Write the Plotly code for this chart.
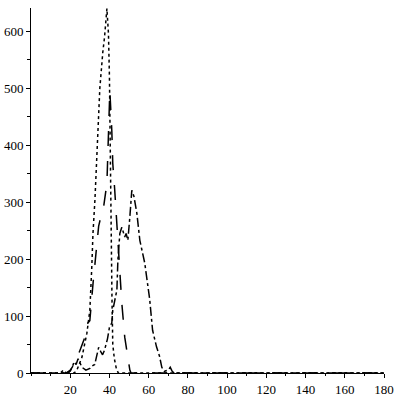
import plotly.graph_objects as go

# dotted curve (tallest peak)
dot_x = [0, 22, 23.4, 26, 28.5, 30, 31, 31.6, 32.6, 33.6, 35.1, 36.6, 37.5, 38.7,
         39.5, 40, 40.3, 40.6, 41, 41.3, 41.7, 42.5, 43.5, 44.5, 180]
dot_y = [0, 0, 5, 28, 70, 110, 186, 245, 304, 391, 500, 563, 590, 640,
         596, 520, 400, 300, 200, 130, 50, 25, 8, 0, 0]

# long dash curve (peak ~500)
dash_x = [0, 18, 20, 22.4, 25, 27.5, 29, 30, 31.7, 33.5, 34.5, 36, 37, 38.7, 39.2,
          40.2, 41.2, 41.7, 42.7, 43.5, 44.3, 45.3, 46.3, 47.8, 49.4, 50.4, 51, 180]
dash_y = [0, 0, 5, 17, 40, 63, 88, 92, 160, 216, 258, 280, 291, 333, 391,
          496, 426, 368, 321, 280, 240, 170, 123, 63, 23, 5, 0, 0]

# dash-dot curve (peak ~320)
dd_x = [0, 15, 16.5, 18, 20, 21, 22, 23, 24, 25, 26, 28, 30, 31, 32.5, 33.5, 34.5,
        35.5, 36.5, 37.5, 39, 40, 41.2, 41.7, 42.5, 43.8, 44.3, 45.3, 46.3, 47.8,
        48.5, 49.4, 50.4, 51.4, 52.5, 54, 55.5, 58, 60.5, 62, 64, 65.5, 66.7, 68,
        70, 71, 72, 73, 180]
dd_y = [0, 0, 5, 0, 3, 10, 20, 15, 25, 18, 10, 5, 8, 12, 15, 30, 45,
        38, 32, 40, 60, 80, 88, 110, 125, 146, 198, 245, 256, 239,
        245, 233, 274, 321, 310, 280, 233, 193, 130, 75, 46, 30, 10, 3,
        5, 10, 3, 0, 0]

x_ticks = [20, 40, 60, 80, 100, 120, 140, 160, 180]
y_ticks = [0, 100, 200, 300, 400, 500, 600]

fig = go.Figure()
fig.add_trace(go.Scatter(x=dot_x, y=dot_y, mode="lines",
                         line=dict(color="black", width=1.5, dash="dot")))
fig.add_trace(go.Scatter(x=dash_x, y=dash_y, mode="lines",
                         line=dict(color="black", width=1.5, dash="longdash")))
fig.add_trace(go.Scatter(x=dd_x, y=dd_y, mode="lines",
                         line=dict(color="black", width=1.5, dash="dashdot")))

axis_style = dict(showgrid=False, zeroline=False, showline=True, automargin=False,
                  linecolor="black", linewidth=1, ticks="outside",
                  tickcolor="black", ticklen=4,
                  tickfont=dict(family="Liberation Serif", size=13, color="black"))

fig.update_xaxes(range=[0, 180], tickvals=x_ticks,
                 minor=dict(dtick=10, ticks="outside", ticklen=2, tickcolor="black"),
                 **axis_style)
fig.update_yaxes(range=[0, 641], tickvals=y_ticks,
                 minor=dict(dtick=50, ticks="outside", ticklen=3, tickcolor="black"),
                 **axis_style)

fig.update_layout(width=400, height=400, showlegend=False,
                  plot_bgcolor="white", paper_bgcolor="white",
                  margin=dict(l=31, r=16, t=8, b=27))

# page body has a default 8px margin; drop it so the figure sits at 0,0
fig.write_html("out.html", config={"displayModeBar": False},
               post_script="document.body.style.margin='0';")
